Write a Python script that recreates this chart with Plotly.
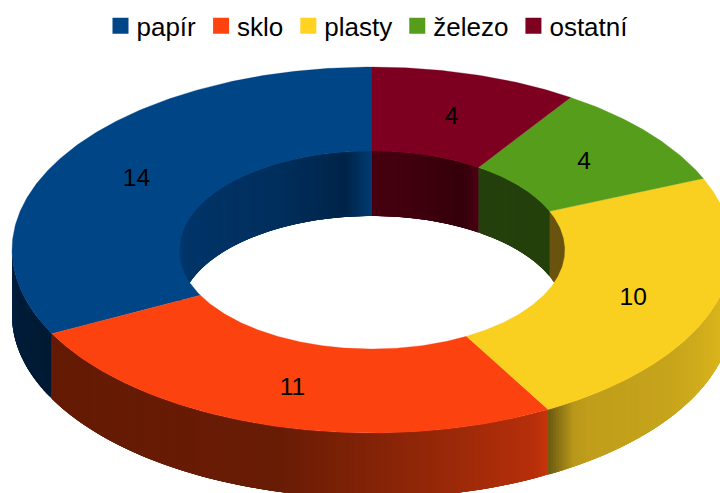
import numpy as np
import plotly.graph_objects as go

# data, in legend order
categories = ["papír", "sklo", "plasty", "železo", "ostatní"]
values = [14, 11, 10, 4, 4]
colors = ["#004586", "#fc420e", "#f9cf20", "#579d1c", "#7e0021"]
legend_colors = ["#004586", "#ff420e", "#ffd320", "#579d1c", "#7e0021"]

# chart geometry (ellipse projection of the ring)
CX, CY, RX, RY = 372, 250, 360, 183
IRX, IRY = 193, 99
LRX, LRY, LABEL_DY = 276, 141.5, 3.5
DEPTH = 65
STEP = 0.5

# wall shading stops: degrees clockwise from 12 o'clock -> colour
outer_shades = {
    "sklo": [(150.7, "#c9350b"), (153, "#b82f0a"), (165, "#9f2a09"), (180, "#832307"), (195, "#691c05"), (242.8, "#641a04")],
    "plasty": [(90, "#e6c01f"), (105, "#d9b41d"), (125, "#c6a41b"), (143, "#c09e1b"), (146, "#b8971a"), (150.7, "#6b5a10")],
    "papír": [(242.8, "#001a33"), (262, "#001d3a"), (270, "#00264d")],
}
inner_shades = {
    "papír": [(270, "#00417e"), (285, "#00366a"), (330, "#002f5e"), (352, "#002448"), (360, "#003c74")],
    "ostatní": [(0, "#46000f"), (10, "#42000e"), (28, "#34000b"), (33.5, "#4c0014")],
    "železo": [(33.5, "#24400c"), (67, "#24400c")],
    "plasty": [(67, "#6a5510"), (90, "#6a5510")],
}


def rgb(h):
    return np.array([int(h[i:i + 2], 16) for i in (1, 3, 5)], float)


def shade(stops, a):
    xs = [s[0] for s in stops]
    c = [np.interp(a, xs, [rgb(s[1])[k] for s in stops]) for k in range(3)]
    return "rgb(%d,%d,%d)" % tuple(round(v) for v in c)


def ell(rx, ry, a, dy=0.0):
    t = np.radians(a)
    return CX + rx * np.sin(t), CY - ry * np.cos(t) + dy


def poly(fig, x, y, color, lw=0.0):
    fig.add_trace(go.Scatter(x=list(x) + [x[0]], y=list(y) + [y[0]], mode="lines", fill="toself",
                             fillcolor=color, line=dict(color=color, width=lw),
                             hoverinfo="skip", showlegend=False))


# slice angles: legend order runs counter-clockwise from 12 o'clock
total = sum(values)
spans = {}
end = 360.0
for name, v in zip(categories, values):
    start = end - v / total * 360
    spans[name] = (start, end)
    end = start


def wall(fig, rx, ry, a0, a1, stops):
    """Painter's-order strips, each overlapping the next so no seams show."""
    n = max(1, int(np.ceil((a1 - a0) / STEP)))
    edges = np.linspace(a0, a1, n + 1)
    for i in range(n):
        p = edges[i]
        q = edges[min(i + 4, n)]
        ang = np.linspace(p, q, 5)
        xs, ys = ell(rx, ry, ang)
        poly(fig, np.r_[xs, xs[::-1]], np.r_[ys, ys[::-1] + DEPTH], shade(stops, (edges[i] + edges[i + 1]) / 2))


fig = go.Figure()

# inner walls (back half)
for name, stops in inner_shades.items():
    a0, a1 = spans[name]
    wall(fig, IRX, IRY, max(a0, 270) if a0 > 180 else a0, a1 if a0 > 180 else min(a1, 90), stops)

# outer walls (front half)
for name, stops in outer_shades.items():
    a0, a1 = spans[name]
    wall(fig, RX, RY, max(a0, 90), min(a1, 270), stops)


# top faces
def arc(a0, a1, rx, ry):
    return ell(rx, ry, np.linspace(a0, a1, int(abs(a1 - a0) * 2) + 3))


for name, color in zip(categories, colors):
    a0, a1 = spans[name]
    xo, yo = arc(a0, a1, RX, RY)
    xi, yi = arc(a1, a0, IRX, IRY)
    poly(fig, np.r_[xo, xi], np.r_[yo, yi], color, lw=0.3)

# value labels
mids = [(spans[n][0] + spans[n][1]) / 2 for n in categories]
lx, ly = ell(LRX, LRY, np.array(mids), LABEL_DY)
fig.add_trace(go.Scatter(x=lx, y=ly, mode="text", text=[str(v) for v in values],
                         textfont=dict(size=24.5, color="#000000", family="Liberation Sans"),
                         hoverinfo="skip", showlegend=False))

# legend
for name, color in zip(categories, legend_colors):
    fig.add_trace(go.Scatter(x=[None], y=[None], mode="markers", name=name,
                             marker=dict(symbol="square", size=16, color=color)))

fig.update_layout(
    width=720, height=493, margin=dict(l=0, r=0, t=0, b=0),
    paper_bgcolor="white", plot_bgcolor="white",
    xaxis=dict(range=[0, 720], visible=False, fixedrange=True),
    yaxis=dict(range=[493, 0], visible=False, fixedrange=True),
    font=dict(family="Liberation Sans", size=26, color="#000000"),
    legend=dict(orientation="h", x=0.5236, xanchor="center", y=0.995, yanchor="top",
                traceorder="normal", itemwidth=30, bgcolor="rgba(0,0,0,0)",
                font=dict(size=26, family="Liberation Sans")),
)

# page reset, and the tighter marker-to-text gap of the reference legend
POST = """
document.body.style.margin='0';document.body.style.overflow='hidden';
(function(){
  var gd=document.getElementById('{plot_id}');
  function tighten(){
    gd.querySelectorAll('.legend .traces').forEach(function(t,i){
      if(t.dataset.done)return;t.dataset.done='1';
      var m=/translate\\(([-\\d.]+),\\s*([-\\d.]+)\\)/.exec(t.getAttribute('transform')||'');
      if(m)t.setAttribute('transform','translate('+(parseFloat(m[1])-4*i)+','+m[2]+')');
      var x=t.querySelector('.legendtext');
      if(x)x.setAttribute('x',parseFloat(x.getAttribute('x'))-4);
    });
  }
  tighten();
  if(gd.on)gd.on('plotly_afterplot',tighten);
})();
"""
fig.write_html("out.html", config={"displayModeBar": False}, post_script=POST)
